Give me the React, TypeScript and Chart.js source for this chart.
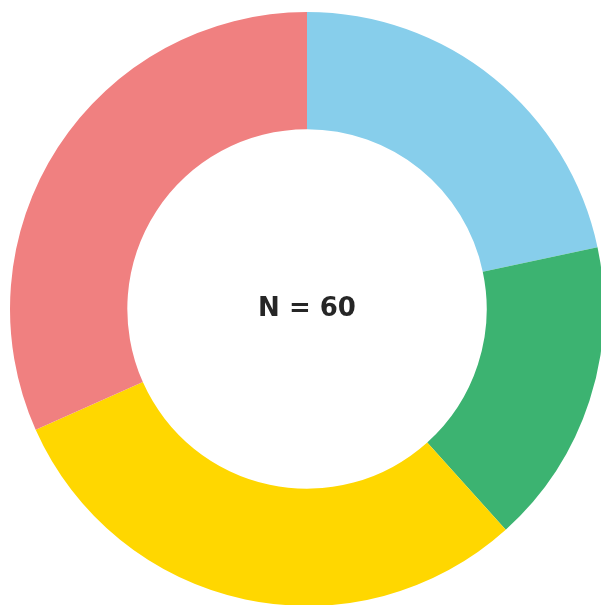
import React, { useEffect, useRef } from "react";
import { Chart, registerables } from "chart.js";

Chart.register(...registerables);

const categories = ["Blue", "Green", "Yellow", "Red"];
const counts = [13, 10, 18, 19];
const colors = ["#87CEEB", "#3CB371", "#FFD700", "#F08080"];
const centerLabel = "N = 60";

const centerText = {
  id: "centerText",
  afterDraw(chart: any) {
    const { ctx, chartArea } = chart;
    const cx = (chartArea.left + chartArea.right) / 2;
    const cy = (chartArea.top + chartArea.bottom) / 2;
    ctx.save();
    ctx.font = "bold 26px 'DejaVu Sans', sans-serif";
    ctx.fillStyle = "#262626";
    ctx.textAlign = "center";
    ctx.textBaseline = "middle";
    ctx.fillText(centerLabel, cx, cy);
    ctx.restore();
  },
};

export default function App() {
  const ref = useRef<HTMLCanvasElement>(null);
  useEffect(() => {
    const chart = new Chart(ref.current!, {
      type: "doughnut",
      data: {
        labels: categories,
        datasets: [
          {
            data: counts,
            backgroundColor: colors,
            borderWidth: 0,
          },
        ],
      },
      options: {
        responsive: false,
        animation: false,
        cutout: "60.5%",
        layout: { padding: 10 },
        plugins: { legend: { display: false }, tooltip: { enabled: false } },
      },
      plugins: [centerText],
    });
    return () => chart.destroy();
  }, []);
  return (
    <div
      style={{
        position: "fixed",
        left: 0,
        top: 0,
        width: 601,
        height: 605,
        overflow: "hidden",
        background: "#fff",
      }}
    >
      <canvas ref={ref} width={614} height={618} style={{ display: "block" }} />
    </div>
  );
}
